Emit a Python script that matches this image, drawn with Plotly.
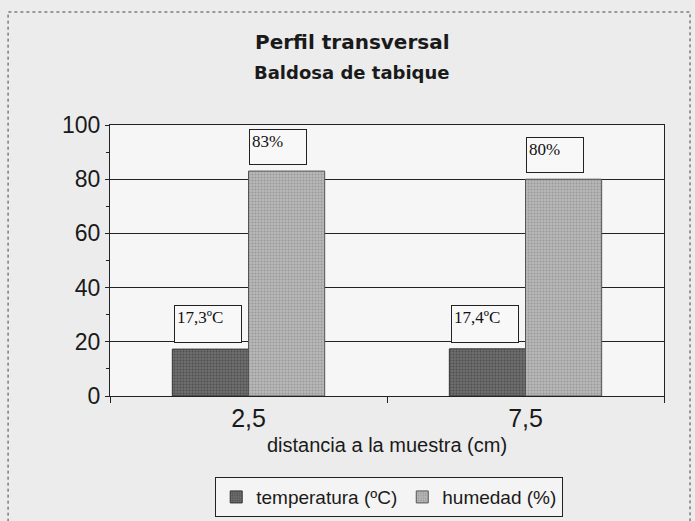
import plotly.graph_objects as go

categories = ["2,5", "7,5"]
temperatura = [17.3, 17.4]
humedad = [83, 80]
temp_labels = ["17,3ºC", "17,4ºC"]
hum_labels = ["83%", "80%"]
y_ticks = [0, 20, 40, 60, 80, 100]

BARGAP = 0.45
half = (1 - BARGAP) / 2

fig = go.Figure()
fig.add_trace(go.Bar(
    name="temperatura (ºC)", x=categories, y=temperatura,
    marker=dict(color="#5c5c5c", line=dict(color="#333333", width=1),
                pattern=dict(shape=".", fgcolor="#2e2e2e", bgcolor="#6e6e6e", size=3, solidity=0.35)),
))
fig.add_trace(go.Bar(
    name="humedad (%)", x=categories, y=humedad,
    marker=dict(color="#a8a8a8", line=dict(color="#555555", width=1),
                pattern=dict(shape=".", fgcolor="#7a7a7a", bgcolor="#b8b8b8", size=3, solidity=0.35)),
))

label_font = dict(family="Liberation Serif, Times New Roman, serif", size=17, color="#111111")
for i, cat in enumerate(categories):
    fig.add_annotation(x=i - half, y=temperatura[i], xref="x", yref="y", text=temp_labels[i],
                       showarrow=False, xanchor="left", yanchor="bottom", yshift=6, xshift=2,
                       font=label_font, bordercolor="#222222", borderwidth=1, bgcolor="#f8f8f8",
                       width=62, height=32, valign="top", align="left", borderpad=2)
    fig.add_annotation(x=i, y=humedad[i], xref="x", yref="y", text=hum_labels[i],
                       showarrow=False, xanchor="left", yanchor="bottom", yshift=6, xshift=0,
                       font=label_font, bordercolor="#222222", borderwidth=1, bgcolor="#f8f8f8",
                       width=52, height=30, valign="top", align="left", borderpad=2)

# titles
title_font = "DejaVu Sans, Arial"
fig.add_annotation(x=0.437, y=1.306, xref="paper", yref="paper", text="<b>Perfil transversal</b>",
                   showarrow=False, xanchor="center", yanchor="middle",
                   font=dict(family=title_font, size=20, color="#1a1a1a"))
fig.add_annotation(x=0.437, y=1.192, xref="paper", yref="paper", text="<b>Baldosa de tabique</b>",
                   showarrow=False, xanchor="center", yanchor="middle",
                   font=dict(family=title_font, size=18, color="#1a1a1a"))
fig.add_annotation(x=0.5, y=-0.181, xref="paper", yref="paper", text="distancia a la muestra (cm)",
                   showarrow=False, xanchor="center", yanchor="middle",
                   font=dict(family="Liberation Sans, Arial", size=20, color="#1a1a1a"))

# outer frame
fig.add_shape(type="rect", xref="paper", yref="paper", x0=-0.184, x1=1.047, y0=-0.47, y1=1.417,
              line=dict(color="#444444", width=1, dash="dot"), layer="below")

fig.update_layout(
    width=695, height=521,
    margin=dict(l=110, r=31, t=125, b=125, autoexpand=False),
    paper_bgcolor="#ececec", plot_bgcolor="#f6f6f6",
    barmode="group", bargap=BARGAP, bargroupgap=0,
    font=dict(family="Liberation Sans, Arial", color="#1a1a1a"),
    showlegend=True,
    legend=dict(orientation="h", x=0.504, y=-0.373, xanchor="center", yanchor="middle",
                bordercolor="#222222", borderwidth=1, bgcolor="#f4f4f4",
                font=dict(family="Liberation Sans, Arial", size=19, color="#1a1a1a"),
                itemwidth=30, tracegroupgap=0),
    xaxis=dict(showline=True, linecolor="#222222", linewidth=1, mirror=True, automargin=False,
               ticks="outside", ticklen=6, tickcolor="#222222", tickson="boundaries",
               tickfont=dict(size=25, color="#1a1a1a"), showgrid=False),
    yaxis=dict(range=[0, 100], tickvals=y_ticks, showline=True, linecolor="#222222", linewidth=1,
               mirror=True, ticks="outside", ticklen=4, tickcolor="#222222", automargin=False,
               tickfont=dict(size=23, color="#1a1a1a"), showgrid=True, gridcolor="#222222",
               gridwidth=1, zeroline=False,
               minor=dict(dtick=10, ticks="outside", ticklen=3, tickcolor="#222222", showgrid=False)),
)

fig.write_html("out.html", post_script="document.body.style.margin='0';",
               config={"displayModeBar": False})
